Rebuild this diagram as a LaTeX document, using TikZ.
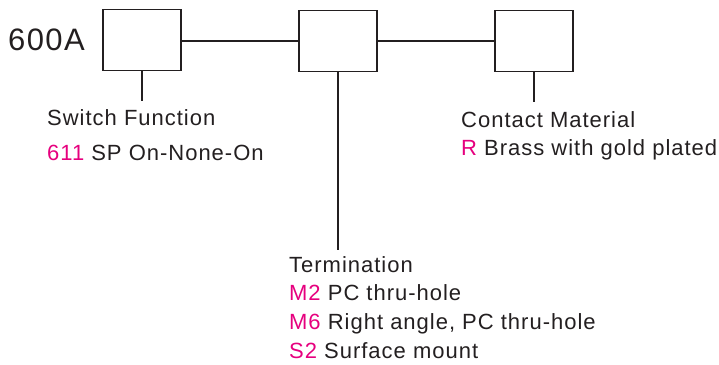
\documentclass[tikz,border=0pt]{standalone}
\usepackage{fontspec}
\setmainfont{Liberation Sans}[LetterSpace=4.5]
\definecolor{ink}{RGB}{35,31,32}
\definecolor{code}{RGB}{230,0,126}
\begin{document}
\begin{tikzpicture}[x=1pt,y=-1pt,
  partbox/.style={draw=ink,line width=1.8pt,minimum width=78pt,minimum height=61pt,inner sep=0pt},
  conn/.style={draw=ink,line width=1.8pt},
  lbl/.style={anchor=base west,inner sep=0pt,text=ink,font=\fontsize{22}{26}\selectfont},
  big/.style={anchor=base west,inner sep=0pt,text=ink,font=\fontsize{31}{36}\selectfont}]
\useasboundingbox (0,0) rectangle (719,364);
\node[partbox] (b1) at (142,40) {};
\node[partbox] (b2) at (338,41) {};
\node[partbox] (b3) at (534,41) {};
\coordinate (s1) at (142,101);
\coordinate (s2) at (338,250);
\coordinate (s3) at (534,102);
\draw[conn] (b1.east |- 0,41) -- (b2.west);
\draw[conn] (b2.east) -- (b3.west);
\draw[conn] (b1.south) -- (s1);
\draw[conn] (b2.south) -- (s2);
\draw[conn] (b3.south) -- (s3);
\node[big] (pn) at (8,50) {600A};
\node[lbl] (sf) at (47,125) {Switch Function};
\node[lbl] (sf1) at (47,160) {\textcolor{code}{611} SP On-None-On};
\node[lbl] (cm) at (461,127) {Contact Material};
\node[lbl] (cm1) at (461,155) {\textcolor{code}{R} Brass with gold plated};
\node[lbl] (tm) at (289,272) {Termination};
\node[lbl] (tm1) at (289,300) {\textcolor{code}{M2} PC thru-hole};
\node[lbl] (tm2) at (289,329) {\textcolor{code}{M6} Right angle, PC thru-hole};
\node[lbl] (tm3) at (289,358) {\textcolor{code}{S2} Surface mount};
\end{tikzpicture}
\end{document}
